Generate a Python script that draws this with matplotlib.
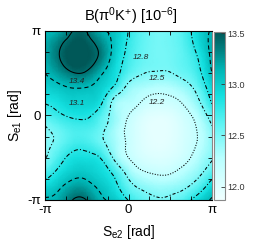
import numpy as np
import matplotlib
matplotlib.use("Agg")
import matplotlib.pyplot as plt
import matplotlib.tri as mtri
from matplotlib.colors import LinearSegmentedColormap

plt.rcParams["font.family"] = ["Liberation Sans", "DejaVu Sans"]
plt.rcParams["mathtext.fontset"] = "custom"
plt.rcParams["mathtext.rm"] = "Liberation Sans"
plt.rcParams["mathtext.it"] = "Liberation Sans:italic"

# grid nodes (step pi/6) on both strong phases
s_e2 = np.linspace(-np.pi, np.pi, 13)
s_e1 = np.linspace(-np.pi, np.pi, 13)

# B(pi0 K+) in 1e-6, rows from S_e1 = -pi (bottom) to +pi (top)
row_top = [13.13, 13.18, 13.405, 13.395, 13.15, 13.03, 12.79, 12.62, 12.53, 12.55, 12.68, 12.93, 13.13]
b_grid = [
    row_top,
    [12.93, 13.05, 13.20, 13.18, 13.04, 12.87, 12.59, 12.44, 12.37, 12.38, 12.45, 12.63, 12.93],
    [12.65, 12.86, 13.00, 13.01, 12.92, 12.72, 12.40, 12.22, 12.16, 12.17, 12.28, 12.42, 12.65],
    [12.48, 12.70, 12.87, 12.88, 12.79, 12.45, 12.20, 12.07, 12.02, 12.04, 12.13, 12.30, 12.48],
    [12.44, 12.57, 12.71, 12.71, 12.57, 12.36, 12.16, 12.01, 11.96, 11.98, 12.08, 12.22, 12.44],
    [12.47, 12.58, 12.68, 12.68, 12.56, 12.35, 12.15, 12.00, 11.95, 11.97, 12.07, 12.22, 12.47],
    [12.63, 12.76, 12.84, 12.84, 12.66, 12.40, 12.20, 12.04, 11.98, 12.00, 12.12, 12.30, 12.63],
    [12.83, 12.90, 12.98, 12.97, 12.86, 12.42, 12.30, 12.19, 12.12, 12.14, 12.24, 12.46, 12.83],
    [12.97, 13.05, 13.11, 13.10, 12.99, 12.75, 12.43, 12.33, 12.28, 12.30, 12.40, 12.60, 12.97],
    [13.10, 13.24, 13.38, 13.36, 13.14, 12.90, 12.64, 12.51, 12.48, 12.49, 12.57, 12.73, 13.10],
    [13.16, 13.38, 13.56, 13.52, 13.33, 12.98, 12.72, 12.58, 12.53, 12.54, 12.62, 12.80, 13.16],
    [13.17, 13.36, 13.52, 13.50, 13.32, 13.03, 12.76, 12.60, 12.53, 12.55, 12.65, 12.89, 13.17],
    row_top,
]

levels = [12.2, 12.5, 12.8, 13.1, 13.4]
level_styles = [(0, (1, 1.5)), (0, (3, 2, 1, 2)), (0, (4, 2, 1, 2)), (0, (4, 3)), "solid"]
label_text = ["12.2", "12.5", "12.8", "13.1", "13.4"]
label_x = [1.07, 1.07, 0.45, -1.94, -1.94]
label_y = [0.50, 1.39, 2.14, 0.46, 1.28]

cbar_ticks = [12.0, 12.5, 13.0, 13.5]
vmin, vmax = 11.87, 13.51

cmap = LinearSegmentedColormap.from_list(
    "teal",
    [(0.0, "#f0ffff"), (0.25, "#b8ffff"), (0.45, "#60f4f4"), (0.62, "#14e0e0"),
     (0.78, "#00b4b4"), (0.9, "#007e7e"), (1.0, "#005858")],
)

X, Y = np.meshgrid(s_e2, s_e1)
Z = np.array(b_grid)
tri = mtri.Triangulation(X.ravel(), Y.ravel())
interp = mtri.CubicTriInterpolator(tri, Z.ravel(), kind="min_E")
tri_f, z_f = mtri.UniformTriRefiner(tri).refine_field(Z.ravel(), triinterpolator=interp, subdiv=4)

fig = plt.figure(figsize=(2.61, 2.45), dpi=100)
ax = fig.add_axes([45 / 261, 45 / 245, 167 / 261, 169 / 245])
cax = fig.add_axes([214 / 261, 45 / 245, 11 / 261, 168 / 245])

pc = ax.tripcolor(tri_f, z_f, shading="gouraud", cmap=cmap, vmin=vmin, vmax=vmax)
ax.tricontour(tri_f, z_f, levels=levels, colors="black", linewidths=0.75,
              linestyles=level_styles)
for t, lx, ly in zip(label_text, label_x, label_y):
    ax.text(lx, ly, t, fontsize=6, style="italic", color="#222222", ha="center", va="center")

ax.set_xlim(-np.pi, np.pi)
ax.set_ylim(-np.pi, np.pi)
ax.set_xticks([-np.pi, 0, np.pi])
ax.set_yticks([-np.pi, 0, np.pi])
ax.set_xticklabels(["-π", "0", "π"])
ax.set_yticklabels(["-π", "0", "π"])
ax.set_xticks(np.arange(-4, 5) * np.pi / 4, minor=True)
ax.set_yticks(np.arange(-4, 5) * np.pi / 4, minor=True)
ax.tick_params(which="both", direction="in", top=True, right=True, labelsize=9.5, pad=3)
ax.tick_params(which="major", length=4, width=0.6)
ax.tick_params(which="minor", length=3, width=0.6)
for sp in ax.spines.values():
    sp.set_linewidth(0.8)
ax.spines["right"].set_color("#888888")

ax.set_xlabel(r"S$_{\mathrm{e2}}$ [rad]", fontsize=10, labelpad=5)
ax.set_ylabel(r"S$_{\mathrm{e1}}$ [rad]", fontsize=10, labelpad=2)
fig.text(131 / 261, 1 - 16 / 245, "B(π$^{0}$K$^{+}$) [10$^{-6}$]", ha="center", va="center", fontsize=10.5)

cb = fig.colorbar(pc, cax=cax, ticks=cbar_ticks)
cb.ax.set_yticklabels([f"{v:.1f}" for v in cbar_ticks])
cb.ax.tick_params(direction="in", length=3, width=0.6, labelsize=6.5, colors="#333333", pad=2)
cb.outline.set_edgecolor("#888888")
cb.outline.set_linewidth(0.8)

fig.savefig("out.png", dpi=100)
